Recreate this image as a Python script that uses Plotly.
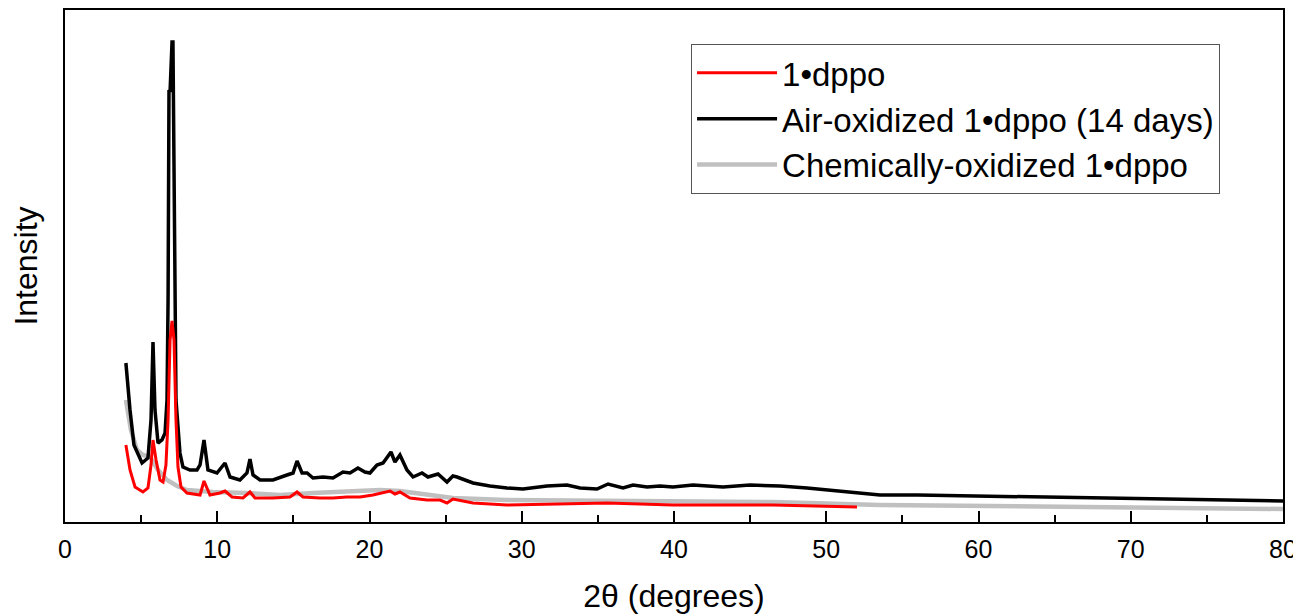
import plotly.graph_objects as go

# 2theta (degrees) / intensity (a.u.)
red_x = [4.0, 4.27, 4.6, 5.12, 5.45, 5.65, 5.78, 5.98, 6.24, 6.44, 6.63, 6.77, 6.9, 7.03, 7.16,
         7.29, 7.42, 7.62, 8.01, 8.87, 9.13, 9.52, 10.18, 10.51, 10.97, 11.69, 12.15, 12.48,
         13.66, 14.78, 15.24, 15.63, 16.75, 17.6, 18.52, 19.38, 20.23, 21.35, 21.67, 22.0,
         22.66, 23.78, 24.63, 25.09, 25.48, 26.8, 29.03, 31.66, 35.6, 39.93, 46.5, 52.02]
red_y = [77, 52, 35, 30, 34, 57, 82, 62, 42, 40, 57, 102, 182, 201, 182,
         102, 55, 35, 29, 27, 41, 27, 29, 31, 25, 24, 30, 24,
         24, 25, 30, 25, 24, 24, 25, 25, 27, 31, 28, 30,
         24, 22, 22, 19, 23, 19, 17, 18, 19, 17, 17, 15]

black_x = [4.0, 4.27, 4.53, 5.06, 5.45, 5.65, 5.78, 5.91, 6.11, 6.37, 6.57, 6.7, 6.77, 6.83,
           6.9, 6.96, 7.03, 7.09, 7.16, 7.29, 7.55, 7.75, 8.21, 8.67, 8.87, 9.13, 9.39, 9.98,
           10.51, 10.84, 11.49, 11.95, 12.15, 12.35, 12.81, 13.66, 14.58, 14.98, 15.24, 15.57,
           15.9, 16.29, 16.95, 17.6, 18.26, 18.72, 19.24, 19.7, 20.03, 20.49, 20.89, 21.41,
           21.67, 22.0, 22.46, 22.86, 23.45, 23.84, 24.5, 25.09, 25.48, 25.75, 26.8, 27.91,
           29.03, 30.08, 31.66, 32.97, 33.83, 34.94, 35.67, 36.65, 37.31, 38.23, 39.08, 39.93,
           41.25, 43.22, 44.99, 46.96, 48.74, 50.05, 52.02, 53.53, 56, 60, 65, 70, 75, 80]
black_y = [159, 112, 77, 59, 64, 102, 180, 112, 79, 82, 89, 122, 222, 432,
           430, 452, 480, 480, 322, 122, 69, 55, 52, 52, 57, 82, 52, 49,
           59, 45, 42, 49, 63, 47, 42, 42, 47, 49, 61, 49,
           49, 44, 45, 44, 50, 49, 54, 50, 49, 57, 59, 70,
           60, 67, 52, 45, 49, 45, 48, 40, 46, 45, 39, 36,
           34, 33, 36, 37, 34, 33, 38, 34, 37, 35, 36, 35,
           37, 35, 37, 36, 34, 32, 29, 27, 27, 26, 25, 23, 22, 21]

gray_x = [4.0, 4.33, 4.73, 5.12, 5.58, 6.11, 6.7, 7.36, 8.01, 9.72, 11.95, 14.12, 16.29,
          18.52, 20.69, 22.0, 23.78, 25.48, 29.03, 37.77, 46.5, 53.53, 60, 70, 80]
gray_y = [122, 92, 72, 67, 65, 52, 42, 36, 32, 30, 29, 27, 29,
          30, 32, 31, 27, 24, 22, 21, 20, 17, 16, 15, 13]

x_ticks = [0, 10, 20, 30, 40, 50, 60, 70, 80]

font = "Liberation Sans, Arial, sans-serif"

fig = go.Figure()
fig.add_trace(go.Scatter(x=gray_x, y=gray_y, mode="lines", name="Chemically-oxidized 1•dppo",
                         line=dict(color="#c0c0c0", width=4.5), legendrank=3))
fig.add_trace(go.Scatter(x=black_x, y=black_y, mode="lines", name="Air-oxidized 1•dppo (14 days)",
                         line=dict(color="black", width=3.5), legendrank=2))
fig.add_trace(go.Scatter(x=red_x, y=red_y, mode="lines", name="1•dppo",
                         line=dict(color="#ff0000", width=3), legendrank=1))

# page body adds an 8px offset, margins compensate for it
fig.update_layout(
    width=1301, height=615,
    margin=dict(l=57, r=26, t=2, b=101),
    plot_bgcolor="white", paper_bgcolor="white",
    font=dict(family=font, color="black"),
    legend=dict(x=0.514, y=0.934, xanchor="left", yanchor="top",
                font=dict(size=33, family=font), bordercolor="#555555", borderwidth=1,
                bgcolor="white", itemwidth=80),
    xaxis=dict(range=[0, 80], tickvals=x_ticks, ticks="inside", ticklen=11, tickwidth=2,
               tickcolor="black", showline=True, linewidth=2, linecolor="black", mirror=True,
               showgrid=False, zeroline=False, tickfont=dict(size=25), automargin=False,
               ticklabelstandoff=4,
               minor=dict(dtick=5, ticks="inside", ticklen=7, tickwidth=2, tickcolor="black"),
               title=dict(text="2θ (degrees)", font=dict(size=32), standoff=23)),
    yaxis=dict(range=[0, 512], showticklabels=False, ticks="", showline=True, linewidth=2,
               linecolor="black", mirror=True, showgrid=False, zeroline=False, automargin=False,
               title=dict(text="Intensity", font=dict(size=32), standoff=19)),
)

fig.write_html("out.html")
